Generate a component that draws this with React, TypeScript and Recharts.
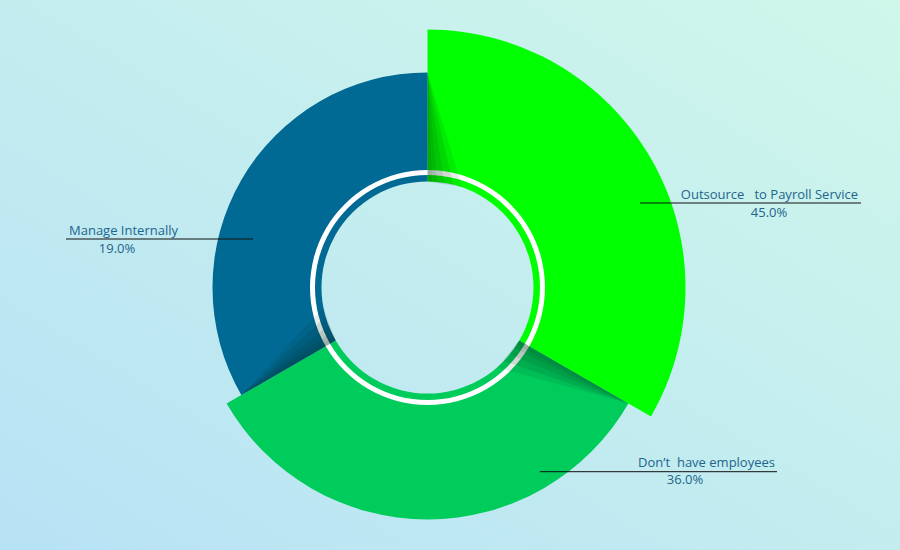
import React from "react";
import { PieChart, Pie, Cell } from "recharts";

// ---- data ----
const categories = ["Outsource   to Payroll Service", "Don\u2019t  have employees", "Manage Internally"];
const shares = [45.0, 36.0, 19.0];

// ---- styles ----
const COLORS = ["#00ff00", "#00cc5c", "#006a95"];
const OUTER_R = [258, 232, 215];
const INNER_R = 106;
const TEXT_COLOR = "#22658c";
const FONT = "'Open Sans', 'Noto Sans', sans-serif";

// label layout relative to pie centre
const LABEL_LAYOUT = [
  { x1: 212.5, x2: 433.5, y: -84.5, tx: 430.5, ty: -88.5, anchor: "end", vx: 341.5, vy: -70.8 },
  { x1: 112.5, x2: 349.5, y: 184.2, tx: 347.5, ty: 179.2, anchor: "end", vx: 257.5, vy: 196.8 },
  { x1: -361.5, x2: -174.5, y: -48.5, tx: -358.5, ty: -52.5, anchor: "start", vx: -310.5, vy: -34.8 },
];

const data = categories.map((name, i) => ({ name, value: shares[i], idx: i }));
const ringData = [{ name: "ring", v: 1 }];

const RAD = Math.PI / 180;
const polar = (cx: number, cy: number, r: number, a: number) => [cx + r * Math.cos(a * RAD), cy - r * Math.sin(a * RAD)];

const SHADOW_LAYERS = [
  { d: 19, o: 0.09 },
  { d: 14, o: 0.1 },
  { d: 9, o: 0.1 },
  { d: 5, o: 0.09 },
  { d: 2.5, o: 0.07 },
];

const renderLabel = (props: any) => {
  const { cx, cy, startAngle, endAngle, payload } = props;
  const i = payload?.idx ?? props.index;
  const L = LABEL_LAYOUT[i];
  const prev = (i + OUTER_R.length - 1) % OUTER_R.length;
  const tipR = Math.min(OUTER_R[i], OUTER_R[prev]);
  const dir = endAngle < startAngle ? -1 : 1;
  const tri = (delta: number, tip: number) => {
    const p1 = polar(cx, cy, INNER_R, startAngle);
    const p2 = polar(cx, cy, INNER_R, startAngle + dir * delta);
    const p3 = polar(cx, cy, tip, startAngle);
    return `${p1[0]},${p1[1]} ${p2[0]},${p2[1]} ${p3[0]},${p3[1]}`;
  };
  return (
    <g key={`lbl-${i}`}>
      {SHADOW_LAYERS.map((s, k) => (
        <polygon key={k} points={tri(s.d, tipR)} fill="#002818" fillOpacity={s.o} />
      ))}
      <line x1={cx + L.x1} x2={cx + L.x2} y1={cy + L.y} y2={cy + L.y} stroke="#111" strokeWidth={1} />
      <text x={cx + L.tx} y={cy + L.ty} textAnchor={L.anchor as any} fill={TEXT_COLOR} fontSize={13} fontFamily={FONT} style={{ whiteSpace: "pre" }}>
        {payload.name}
      </text>
      <text x={cx + L.vx} y={cy + L.vy} textAnchor="middle" fill={TEXT_COLOR} fontSize={13} fontFamily={FONT}>
        {`${payload.value.toFixed(1)}%`}
      </text>
    </g>
  );
};

export default function App() {
  return (
    <div
      style={{
        position: "absolute",
        left: 0,
        top: 0,
        width: 900,
        height: 550,
        background: "linear-gradient(to top right, #b7e2f5, #d0f7ea)",
      }}
    >
      <PieChart width={900} height={550} margin={{ top: 0, right: 0, bottom: 0, left: 0 }}>
        <Pie
          data={data}
          dataKey={() => 1}
          nameKey="name"
          cx={427.5}
          cy={287.5}
          startAngle={90}
          endAngle={-270}
          innerRadius={INNER_R}
          outerRadius={(d: any) => OUTER_R[d.idx]}
          stroke="none"
          label={renderLabel}
          labelLine={false}
          isAnimationActive={false}
        >
          {data.map((d, i) => (
            <Cell key={d.name} fill={COLORS[i]} />
          ))}
        </Pie>
        <Pie
          data={ringData}
          dataKey="v"
          cx={427.5}
          cy={287.5}
          startAngle={90}
          endAngle={-270}
          innerRadius={112.5}
          outerRadius={117.5}
          fill="#ffffff"
          stroke="none"
          isAnimationActive={false}
        />
      </PieChart>
    </div>
  );
}
